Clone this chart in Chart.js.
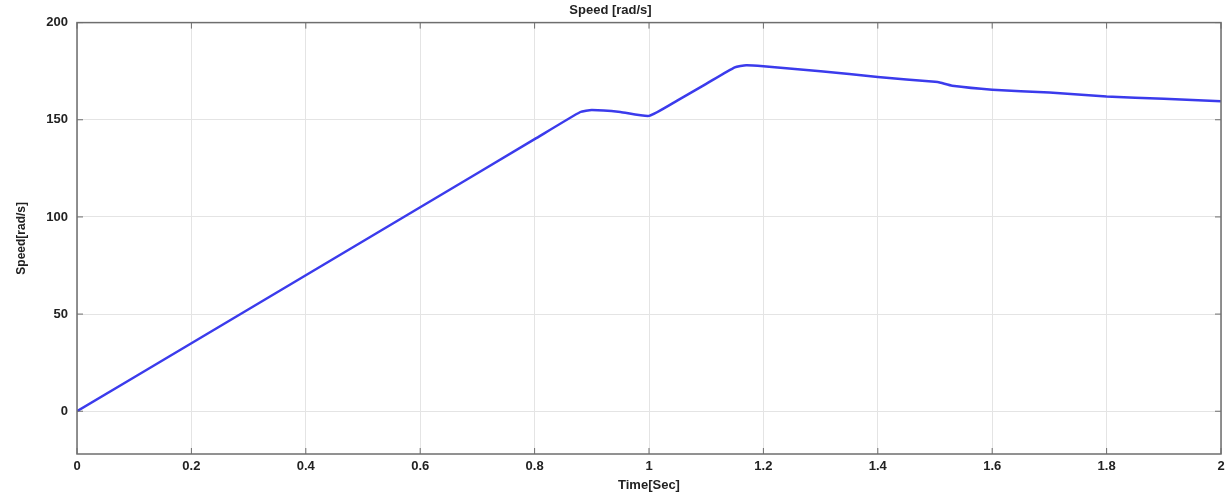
<!DOCTYPE html>
<html>
<head>
<meta charset="utf-8">
<script src="https://cdn.jsdelivr.net/npm/chart.js@4/dist/chart.umd.min.js"></script>
<style>
  html, body { margin: 0; padding: 0; background: #fff; }
  #wrap { width: 1231px; height: 493px; position: relative; }
</style>
</head>
<body>
<div id="wrap"><canvas id="speedChart"></canvas></div>
<script>
// values
const timeSec = [0, 0.2, 0.4, 0.6, 0.8, 0.88, 0.9, 0.95, 1.0, 1.05, 1.1, 1.15, 1.17, 1.2, 1.3, 1.4, 1.5, 1.51, 1.53, 1.6, 1.7, 1.8, 1.9, 2.0]
const speed   = [0, 35, 70, 105, 140, 154, 155, 154, 152, 160, 168.5, 177, 178, 177.5, 175, 172, 169.5, 169, 167.5, 165.5, 164, 162, 160.8, 159.5]
const xTicks = [0, 0.2, 0.4, 0.6, 0.8, 1, 1.2, 1.4, 1.6, 1.8, 2]
const yTicks = [0, 50, 100, 150, 200]

const tickFont = { family: 'Liberation Sans, Arial, sans-serif', size: 13, weight: 'bold' }

// box around the plot like matlab axes
const boxPlugin = {
    id: 'box',
    afterDraw(chart) {
        let a = chart.chartArea
        let c = chart.ctx
        c.save()
        c.strokeStyle = '#6e6e6e'
        c.lineWidth = 1.5
        c.strokeRect(a.left, a.top, a.right - a.left, a.bottom - a.top)
        // small inner tick marks
        c.lineWidth = 1
        let xs = chart.scales.x, ys = chart.scales.y
        xTicks.forEach(v => {
            let px = xs.getPixelForValue(v)
            c.beginPath(); c.moveTo(px, a.bottom); c.lineTo(px, a.bottom - 6); c.stroke()
            c.beginPath(); c.moveTo(px, a.top); c.lineTo(px, a.top + 6); c.stroke()
        })
        yTicks.forEach(v => {
            let py = ys.getPixelForValue(v)
            c.beginPath(); c.moveTo(a.left, py); c.lineTo(a.left + 6, py); c.stroke()
            c.beginPath(); c.moveTo(a.right, py); c.lineTo(a.right - 6, py); c.stroke()
        })
        c.restore()
    }
}

const data = {
    datasets: [{
        label: 'Speed',
        data: timeSec.map((t, i) => ({ x: t, y: speed[i] })),
        borderColor: '#3b3bec',
        borderWidth: 2.5,
        pointRadius: 0,
        tension: 0.15,
        fill: false
    }]
}

const config = {
    type: 'line',
    data: data,
    options: {
        responsive: true,
        maintainAspectRatio: false,
        animation: false,
        layout: { padding: { right: 10, left: 0, top: 0, bottom: 0 } },
        plugins: {
            legend: { display: false },
            tooltip: { enabled: false },
            title: {
                display: true,
                text: 'Speed [rad/s]',
                color: '#222',
                font: { family: 'Liberation Sans, Arial, sans-serif', size: 13, weight: 'bold' },
                padding: { top: 3, bottom: 4 }
            }
        },
        scales: {
            x: {
                type: 'linear',
                min: 0,
                max: 2,
                afterBuildTicks: s => { s.ticks = xTicks.map(v => ({ value: v })) },
                afterFit: s => { s.height = 39 },
                grid: { color: '#e4e4e4', drawTicks: false },
                border: { display: false },
                ticks: { color: '#222', font: tickFont, padding: 5, maxRotation: 0, callback: v => String(+v.toFixed(1)) },
                title: {
                    display: true,
                    text: 'Time[Sec]',
                    color: '#222',
                    font: { family: 'Liberation Sans, Arial, sans-serif', size: 13, weight: 'bold' },
                    padding: { top: 0, bottom: 0 }
                }
            },
            y: {
                min: -22,
                max: 200,
                afterBuildTicks: s => { s.ticks = yTicks.map(v => ({ value: v })) },
                afterFit: s => { s.width = 77 },
                grid: { color: '#e4e4e4', drawTicks: false },
                border: { display: false },
                ticks: { color: '#222', font: tickFont, padding: 9 },
                title: {
                    display: true,
                    text: 'Speed[rad/s]',
                    color: '#222',
                    font: { family: 'Liberation Sans Narrow, Arial Narrow, sans-serif', size: 12, weight: 'bold' },
                    padding: { top: 14, bottom: 0 }
                }
            }
        }
    },
    plugins: [boxPlugin]
}

let c = document.getElementById('speedChart').getContext('2d')
new Chart(c, config)
</script>
</body>
</html>
